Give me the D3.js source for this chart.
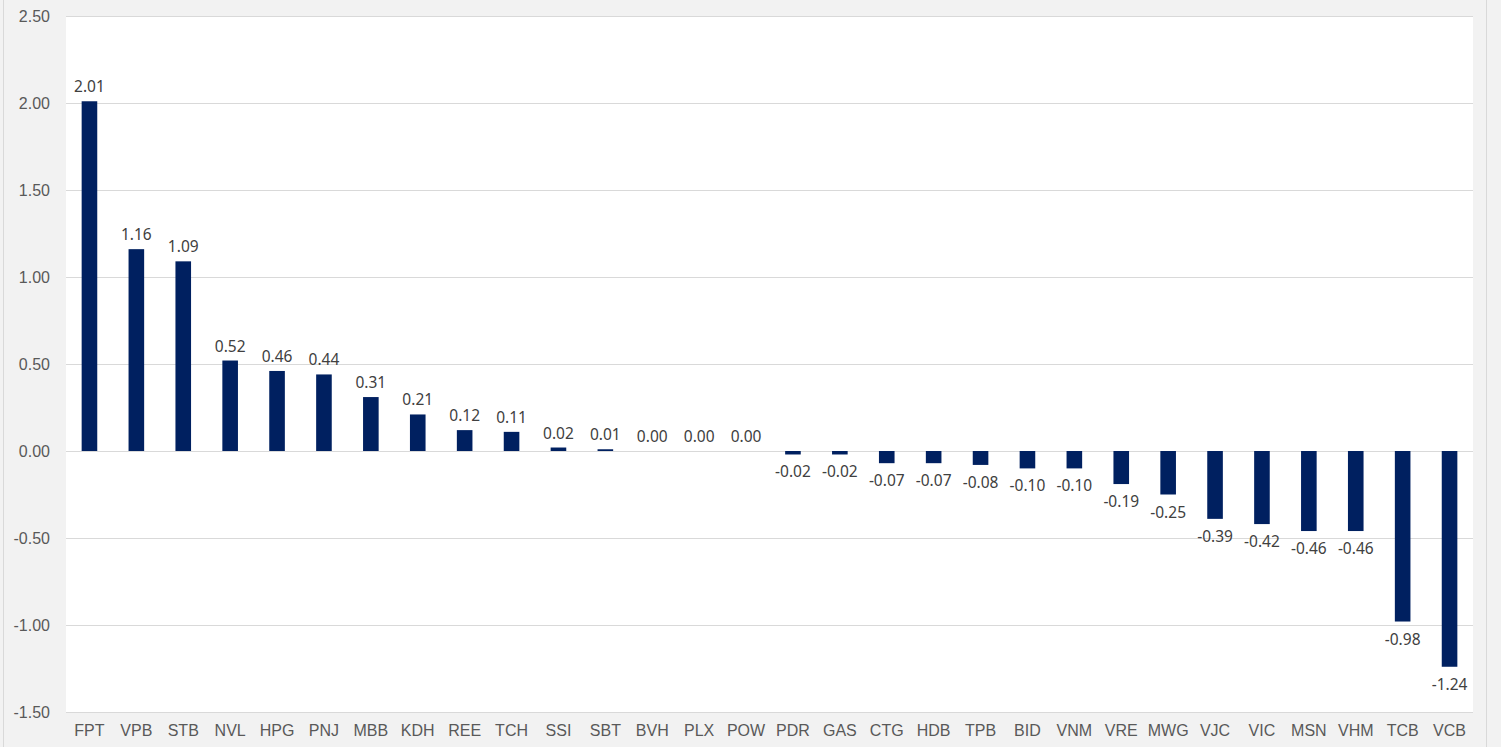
<!DOCTYPE html>
<html>
<head>
<meta charset="utf-8">
<script src="https://cdn.jsdelivr.net/npm/d3@7"></script>
<style>
	body { margin: 0; background: #f2f2f2; }
	svg { display: block; }
	.y-axis text { font-family: "Liberation Sans", Arial, sans-serif; font-size: 16px; fill: #595959; }
	.x-axis text { font-family: "Liberation Sans", Arial, sans-serif; font-size: 16px; fill: #595959; }
	.val { font-family: "Noto Sans", "Open Sans", sans-serif; font-size: 15.5px; fill: #404040; }
</style>
</head>
<body>
<svg id="chart"></svg>
<script>
// tickers, sorted as in the picture
let tickers = ["FPT", "VPB", "STB", "NVL", "HPG", "PNJ", "MBB", "KDH", "REE", "TCH",
	"SSI", "SBT", "BVH", "PLX", "POW", "PDR", "GAS", "CTG", "HDB", "TPB",
	"BID", "VNM", "VRE", "MWG", "VJC", "VIC", "MSN", "VHM", "TCB", "VCB"];

let impact = [2.01, 1.16, 1.09, 0.52, 0.46, 0.44, 0.31, 0.21, 0.12, 0.11,
	0.02, 0.01, 0.00, 0.00, 0.00, -0.02, -0.02, -0.07, -0.07, -0.08,
	-0.10, -0.10, -0.19, -0.25, -0.39, -0.42, -0.46, -0.46, -0.98, -1.24];

let yTicks = [-1.5, -1.0, -0.5, 0, 0.5, 1.0, 1.5, 2.0, 2.5];

let w = 1501, h = 747;
let plotLeft = 66, plotRight = 1473, plotTop = 16, plotBottom = 712;

let chart = d3.select('#chart')
	.attr('width', w)
	.attr('height', h);

// plot area
chart.append('rect')
	.attr('x', plotLeft).attr('y', plotTop)
	.attr('width', plotRight - plotLeft).attr('height', plotBottom - plotTop)
	.attr('fill', '#ffffff');

// border lines on both sides
chart.append('line')
	.attr('x1', 3.5).attr('x2', 3.5).attr('y1', 0).attr('y2', h)
	.attr('stroke', '#d9d9d9');
chart.append('line')
	.attr('x1', 1486.5).attr('x2', 1486.5).attr('y1', 0).attr('y2', h)
	.attr('stroke', '#d9d9d9');

let xScale = d3.scaleBand()
	.domain(tickers)
	.range([plotLeft, plotRight]);

let yScale = d3.scaleLinear()
	.domain([-1.5, 2.5])
	.range([plotBottom, plotTop]);

// y axis with gridlines
let yAxis = d3.axisLeft(yScale)
	.tickValues(yTicks)
	.tickSize(-(plotRight - plotLeft))
	.tickPadding(16)
	.tickFormat(d3.format('.2f'));

let yAxisGroup = chart.append('g')
	.attr('class', 'y-axis')
	.attr('transform', `translate(${plotLeft},0)`)
	.call(yAxis);
yAxisGroup.select('.domain').remove();
yAxisGroup.selectAll('line').attr('stroke', '#d9d9d9');
yAxisGroup.selectAll('text').text(d => d3.format('.2f')(d).replace('−', '-'));

// x axis labels at the bottom
let xAxis = d3.axisBottom(xScale).tickSize(0).tickPadding(13);
let xAxisGroup = chart.append('g')
	.attr('class', 'x-axis')
	.attr('transform', `translate(0, ${plotBottom})`)
	.call(xAxis);
xAxisGroup.select('.domain').remove();

let data = tickers.map((t, i) => ({ name: t, value: impact[i] }));
let barW = 15.6;

chart.selectAll('.bar')
	.data(data)
	.enter()
	.append('rect')
	.attr('class', 'bar')
	.attr('x', d => xScale(d.name) + xScale.bandwidth() / 2 - barW / 2)
	.attr('y', d => yScale(Math.max(0, d.value)))
	.attr('width', barW)
	.attr('height', d => Math.abs(yScale(d.value) - yScale(0)))
	.attr('fill', '#002060');

// value labels
chart.selectAll('.val')
	.data(data)
	.enter()
	.append('text')
	.attr('class', 'val')
	.attr('x', d => xScale(d.name) + xScale.bandwidth() / 2)
	.attr('y', d => d.value >= 0 ? yScale(d.value) - 9 : yScale(d.value) + 23)
	.attr('text-anchor', 'middle')
	.text(d => d3.format('.2f')(d.value).replace('−', '-'));
</script>
</body>
</html>
